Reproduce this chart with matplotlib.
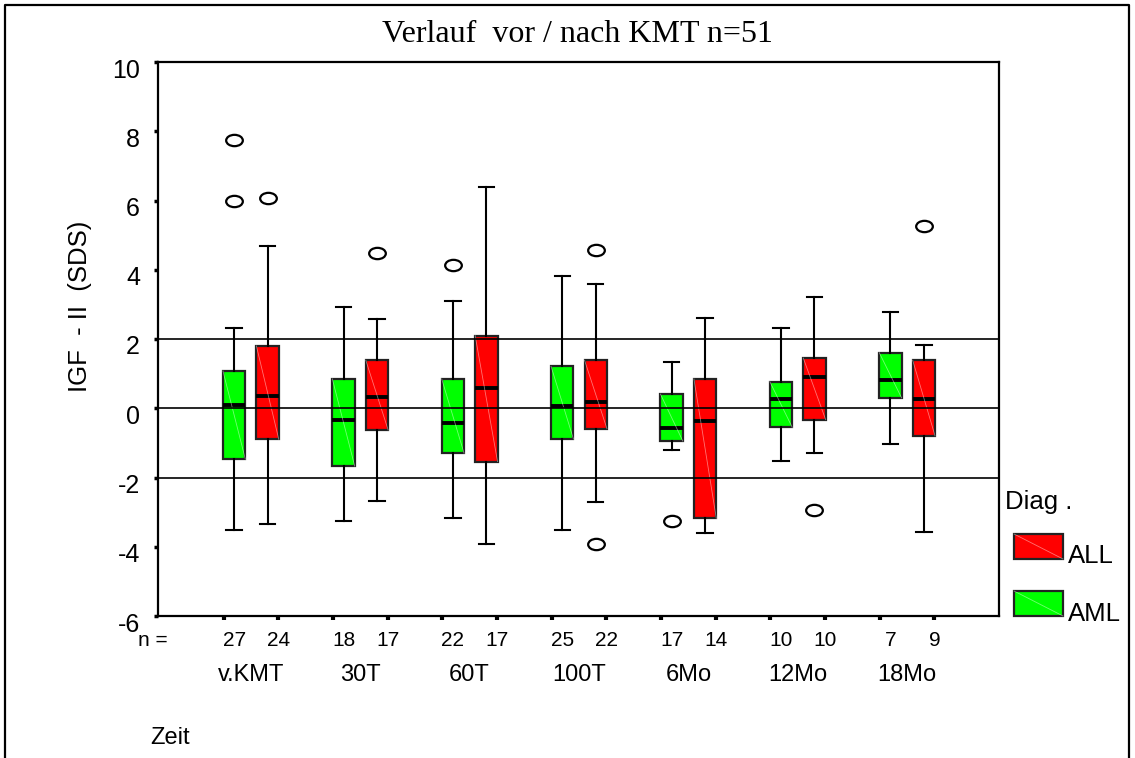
import numpy as np
import matplotlib.pyplot as plt
from matplotlib.path import Path
from matplotlib.transforms import Affine2D, ScaledTranslation
from matplotlib.lines import Line2D
from matplotlib.patches import Rectangle

plt.rcParams['font.family'] = ['Liberation Sans', 'DejaVu Sans']
plt.rcParams['axes.unicode_minus'] = False

# ---- data ----
groups = ["v.KMT", "30T", "60T", "100T", "6Mo", "12Mo", "18Mo"]
n_aml = [27, 18, 22, 25, 17, 10, 7]
n_all = [24, 17, 17, 22, 14, 10, 9]

# AML (green)
aml_lo = [-3.53, -3.26, -3.17, -3.53, -1.22, -1.53, -1.04]
aml_q1 = [-1.47, -1.67, -1.30, -0.89, -0.95, -0.55, 0.30]
aml_med = [0.09, -0.35, -0.44, 0.06, -0.57, 0.26, 0.81]
aml_q3 = [1.08, 0.85, 0.85, 1.21, 0.41, 0.77, 1.61]
aml_hi = [2.31, 2.93, 3.10, 3.82, 1.34, 2.31, 2.77]
aml_out = [[7.74, 5.98], [], [4.13], [], [-3.25], [], []]

# ALL (red)
all_lo = [-3.34, -2.68, -3.92, -2.71, -3.60, -1.28, -3.56]
all_q1 = [-0.90, -0.63, -1.54, -0.59, -3.18, -0.33, -0.80]
all_med = [0.35, 0.32, 0.58, 0.18, -0.36, 0.89, 0.26]
all_q3 = [1.80, 1.39, 2.10, 1.39, 0.85, 1.45, 1.39]
all_hi = [4.70, 2.58, 6.38, 3.59, 2.61, 3.20, 1.82]
all_out = [[6.07], [4.48], [], [4.58, -3.92], [], [-2.93], [5.27]]

ref_lines = [-2, 0, 2]

W, H = 1135, 758
fig = plt.figure(figsize=(W / 100, H / 100), dpi=100)


def fx(px):
    return px / W


def fy(py):
    return 1 - py / H


ax = fig.add_axes([fx(158), fy(616), fx(999) - fx(158), fy(62) - fy(616)])

x = np.arange(len(groups))
off = 0.153
bw = 0.205
pos_aml = x - off
pos_all = x + off

ellipse = Path.unit_circle().transformed(Affine2D().scale(1, 0.68))


def stats(lo, q1, med, q3, hi, out):
    return [dict(whislo=a, q1=b, med=c, q3=d, whishi=e, fliers=f)
            for a, b, c, d, e, f in zip(lo, q1, med, q3, hi, out)]


for st, pos, col in [(stats(aml_lo, aml_q1, aml_med, aml_q3, aml_hi, aml_out), pos_aml, '#00ff00'),
                     (stats(all_lo, all_q1, all_med, all_q3, all_hi, all_out), pos_all, '#ff0000')]:
    ax.bxp(st, positions=pos, widths=bw, capwidths=0.14, patch_artist=True,
           boxprops=dict(facecolor=col, edgecolor='#222222', linewidth=1.6),
           medianprops=dict(color='black', linewidth=2.8, solid_capstyle='butt'),
           whiskerprops=dict(color='black', linewidth=1.5),
           capprops=dict(color='black', linewidth=1.5),
           flierprops=dict(marker=ellipse, markersize=12, markerfacecolor='white',
                           markeredgecolor='black', markeredgewidth=1.6),
           manage_ticks=False, zorder=2)
    # faint diagonal shading line inside each box
    for p, s in zip(pos, st):
        ax.plot([p - bw / 2, p + bw / 2], [s['q3'], s['q1']], color='white',
                lw=0.6, alpha=0.45, zorder=2.5)

for v in ref_lines:
    ax.axhline(v, color='black', lw=1.2, zorder=3)

ax.set_xlim(-0.849, 6.84)
ax.set_ylim(-6, 10)

for sp in ax.spines.values():
    sp.set_linewidth(1.6)

ax.set_xticks(np.concatenate([x - 0.25, x + 0.25]))
ax.tick_params(axis='x', length=3, width=3, direction='out', labelbottom=False)
ax.set_yticks(range(-6, 11, 2))
ax.tick_params(axis='y', length=3, width=2.5, direction='out', labelsize=18, pad=10)
for lab in ax.get_yticklabels():
    lab.set_transform(lab.get_transform() + ScaledTranslation(0, -0.06, fig.dpi_scale_trans))

# n counts under the axis
xt = ax.get_xaxis_transform()
y_n = (616 - 640) / 554
for i in range(len(groups)):
    ax.text(pos_aml[i], y_n, str(n_aml[i]), transform=xt, ha='center', va='center',
            fontsize=15, clip_on=False)
    ax.text(x[i] + 0.25, y_n, str(n_all[i]), transform=xt, ha='center', va='center',
            fontsize=15, clip_on=False)
    ax.text(x[i], (616 - 675) / 554, groups[i], transform=xt, ha='center', va='center',
            fontsize=17, clip_on=False)

fig.text(fx(168), fy(640), "n =", ha='right', va='center', fontsize=15)
fig.text(fx(150), fy(738), "Zeit", ha='left', va='center', fontsize=17)
fig.text(fx(80), fy(306), "IGF  - II  (SDS)", rotation=90, ha='center', va='center',
         fontsize=18.5)
fig.text(fx(577), fy(35), "Verlauf  vor / nach KMT n=51", ha='center', va='center',
         fontsize=23, family='Liberation Serif')

# legend
fig.text(fx(1005), fy(502), "Diag .", ha='left', va='center', fontsize=18.5)
for (top, bot), col, lab, ly in [((534, 559), '#ff0000', "ALL", 556),
                                 ((591, 616), '#00ff00', "AML", 614)]:
    fig.add_artist(Rectangle((fx(1014), fy(bot)), fx(1063) - fx(1014), fy(top) - fy(bot),
                             transform=fig.transFigure, facecolor=col,
                             edgecolor='#222222', linewidth=1.6))
    fig.add_artist(Line2D([fx(1014), fx(1063)], [fy(top), fy(bot)], transform=fig.transFigure,
                          color='white', lw=0.6, alpha=0.45))
    fig.text(fx(1068), fy(ly), lab, ha='left', va='center', fontsize=18.5)

# outer frame (left, top, right)
fig.add_artist(Line2D([fx(5), fx(5), fx(1129), fx(1129)], [0, fy(5), fy(5), 0],
                      transform=fig.transFigure, color='black', lw=1.6))

fig.savefig("out.png", dpi=100)
